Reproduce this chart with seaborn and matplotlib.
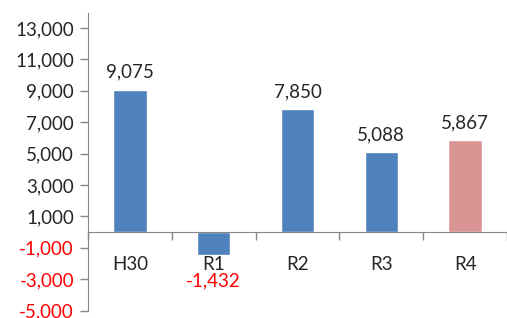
import matplotlib
matplotlib.use("Agg")
import matplotlib.pyplot as plt
import seaborn as sns
import pandas as pd
from matplotlib.ticker import FixedLocator, NullFormatter

categories = ["H30", "R1", "R2", "R3", "R4"]
values = [9075, -1432, 7850, 5088, 5867]
bar_colors = ["#4F81BD", "#4F81BD", "#4F81BD", "#4F81BD", "#D99594"]
yticks = [-5000, -3000, -1000, 1000, 3000, 5000, 7000, 9000, 11000, 13000]

sns.set_style("white")
plt.rcParams["font.family"] = ["Lato", "DejaVu Sans"]

df = pd.DataFrame({"cat": categories, "val": values})

fig = plt.figure(figsize=(5.07, 3.18), dpi=100)
ax = fig.add_axes([88 / 507, 1 - 311 / 318, 1 - 88 / 507, (311 - 13) / 318])

sns.barplot(data=df, x="cat", y="val", hue="cat", palette=bar_colors,
            width=0.4, legend=False, ax=ax, saturation=1)

ax.set_xlim(-0.5, len(categories) - 0.5)
ax.set_ylim(-5030, 13960)
ax.set_xlabel("")
ax.set_ylabel("")
ax.set_axisbelow(False)

grey = "#868686"
fs = 13.5
for s in ["top", "right"]:
    ax.spines[s].set_visible(False)
ax.spines["left"].set_color(grey)
ax.spines["bottom"].set_color(grey)
ax.spines["bottom"].set_position(("data", 0))

ax.set_yticks(yticks)
ax.set_yticklabels([f"{v:,}" for v in yticks])
for lbl, v in zip(ax.get_yticklabels(), yticks):
    lbl.set_color("#FF0000" if v < 0 else "#262626")
ax.tick_params(axis="y", direction="out", length=6, color=grey, width=1,
               labelsize=fs, pad=4, left=True)

# category boundaries as major ticks, labels at centers as minor ticks
ax.xaxis.set_major_locator(FixedLocator([i - 0.5 for i in range(len(categories) + 1)]))
ax.xaxis.set_major_formatter(NullFormatter())
ax.xaxis.set_minor_locator(FixedLocator(list(range(len(categories)))))
ax.set_xticklabels(categories, minor=True)
ax.tick_params(axis="x", which="major", direction="out", length=6, color=grey, width=1, bottom=True)
ax.tick_params(axis="x", which="minor", length=0, labelsize=fs, pad=17, labelcolor="#262626")

for i, v in enumerate(values):
    if v >= 0:
        ax.annotate(f"{v:,}", (i, v), xytext=(0, 8.5), textcoords="offset points",
                    ha="center", va="baseline", fontsize=fs, color="#262626")
    else:
        ax.annotate(f"{v:,}", (i, v), xytext=(0, -23), textcoords="offset points",
                    ha="center", va="baseline", fontsize=fs, color="#FF0000")

fig.savefig("out.png", dpi=100)
